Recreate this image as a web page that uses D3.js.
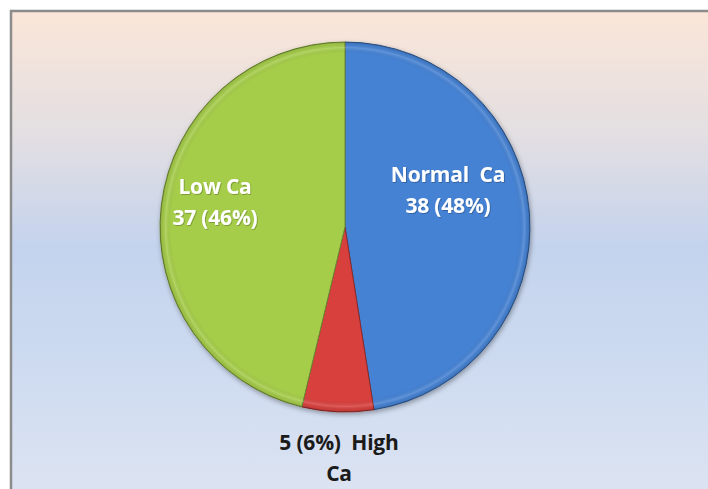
<!DOCTYPE html>
<html>
<head>
<meta charset="utf-8">
<script src="https://cdn.jsdelivr.net/npm/d3@7"></script>
<style>
  html, body { margin: 0; padding: 0; background: #ffffff; }
  svg { display: block; }
</style>
</head>
<body>
<svg id="chart" width="708" height="489"></svg>
<script>
// Serum calcium groups
const categories = ["Normal Ca", "High Ca", "Low Ca"];
const counts = [38, 5, 37];
const percents = [48, 6, 46];
const sliceColors = ["#4582d4", "#d8403e", "#a5cd4a"];

const width = 708, height = 489;
const cx = 345, cy = 227, radius = 185;

const svg = d3.select("#chart");
const defs = svg.append("defs");

// Plot area background
const bg = defs.append("linearGradient")
  .attr("id", "bg").attr("x1", 0).attr("y1", 0).attr("x2", 0).attr("y2", 1);
[["0%", "#fbe6d8"], ["25%", "#e3dfe2"], ["48%", "#c4d3ed"], ["70%", "#ccdaf0"], ["100%", "#dde4f2"]]
  .forEach(([o, c]) => bg.append("stop").attr("offset", o).attr("stop-color", c));

svg.append("rect")
  .attr("x", 11).attr("y", 11)
  .attr("width", width).attr("height", height)
  .attr("fill", "url(#bg)")
  .attr("stroke", "#8c8c8c").attr("stroke-width", 2.5);

// Bevel shading
const bevel = defs.append("radialGradient")
  .attr("id", "bevel").attr("gradientUnits", "userSpaceOnUse")
  .attr("cx", 0).attr("cy", 0).attr("r", radius);
[["0%", "#000", 0], ["94%", "#000", 0], ["97%", "#fff", 0.15], ["99%", "#000", 0.06], ["100%", "#000", 0.22]]
  .forEach(([o, c, a]) => bevel.append("stop").attr("offset", o).attr("stop-color", c).attr("stop-opacity", a));

const shadow = defs.append("filter").attr("id", "shadow")
  .attr("x", "-20%").attr("y", "-20%").attr("width", "140%").attr("height", "140%");
shadow.append("feDropShadow").attr("dx", 1).attr("dy", 2).attr("stdDeviation", 2.5)
  .attr("flood-color", "#000").attr("flood-opacity", 0.35);

const textShadow = defs.append("filter").attr("id", "tshadow");
textShadow.append("feDropShadow").attr("dx", 0.8).attr("dy", 0.8).attr("stdDeviation", 0.6)
  .attr("flood-color", "#000").attr("flood-opacity", 0.3);

const data = categories.map((c, i) => ({ cat: c, value: counts[i], pct: percents[i], color: sliceColors[i] }));

const pie = d3.pie().value(d => d.value).sort(null);
const arc = d3.arc().innerRadius(0).outerRadius(radius);
const arcs = pie(data);

const g = svg.append("g").attr("transform", `translate(${cx},${cy})`);

g.append("g").attr("filter", "url(#shadow)")
  .selectAll("path").data(arcs).join("path")
  .attr("d", arc)
  .attr("fill", d => d.data.color)
  .attr("stroke", d => d3.color(d.data.color).darker(1.2))
  .attr("stroke-width", 1);

g.append("g").selectAll("path").data(arcs).join("path")
  .attr("d", arc)
  .attr("fill", "url(#bevel)")
  .attr("stroke", "none");

// Data labels
const font = "'Open Sans', 'Liberation Sans', sans-serif";
const labelPos = {
  "Normal Ca": { dx: 103, dy: -45, lines: d => ["Normal  Ca", `${d.value} (${d.pct}%)`], fill: "#ffffff" },
  "Low Ca": { dx: -130, dy: -33, lines: d => ["Low Ca", `${d.value} (${d.pct}%)`], fill: "#ffffff" },
  "High Ca": { dx: -6, dy: 223, lines: d => [`${d.value} (${d.pct}%)  High`, "Ca"], fill: "#1a1a1a" }
};

arcs.forEach(a => {
  const p = labelPos[a.data.cat];
  const lines = p.lines(a.data);
  const t = g.append("text")
    .attr("text-anchor", "middle")
    .attr("font-family", font)
    .attr("font-weight", "bold")
    .attr("font-size", 21)
    .attr("fill", p.fill)
    .attr("letter-spacing", -0.2)
    .attr("filter", p.fill === "#ffffff" ? "url(#tshadow)" : null)
    .attr("transform", `translate(${p.dx},${p.dy})`);
  lines.forEach((ln, i) => {
    t.append("tspan").attr("x", 0).attr("y", i * 31).style("white-space", "pre").text(ln);
  });
});
</script>
</body>
</html>
